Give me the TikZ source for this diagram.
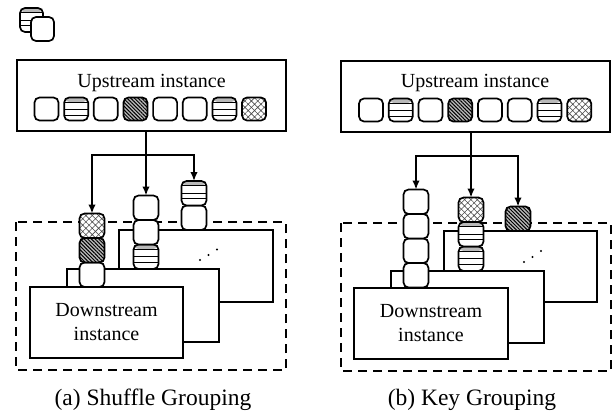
\documentclass[tikz,border=0pt]{standalone}
\usepackage{fontspec}
\setmainfont{Liberation Serif}
\usepackage{tikz}
\usetikzlibrary{arrows.meta}
\usetikzlibrary{patterns.meta}
\usetikzlibrary{positioning}

\tikzset{
	tok/.style={draw,line width=1.7pt,rounded corners=5pt,minimum width=25pt,minimum height=24.5pt,inner sep=0pt,outer sep=0pt},
	tokE/.style={tok,fill=white},
	tokS/.style={tok,fill=white,path picture={
		\fill[gray!55] (path picture bounding box.north west) rectangle ([yshift=-4.5pt]path picture bounding box.north east);
		\draw[line width=0.9pt] ([yshift=-4.5pt]path picture bounding box.north west) -- ([yshift=-4.5pt]path picture bounding box.north east);
		\draw[line width=0.9pt] ([yshift=-12pt]path picture bounding box.north west) -- ([yshift=-12pt]path picture bounding box.north east);
		\draw[line width=0.9pt] ([yshift=-17.5pt]path picture bounding box.north west) -- ([yshift=-17.5pt]path picture bounding box.north east);}},
	tokD/.style={tok,preaction={fill=gray!55},pattern={Lines[angle=-45,distance=2.6pt,line width=1pt]},pattern color=black},
	tokC/.style={tok,preaction={fill=white},pattern={Hatch[angle=45,distance=4.5pt,line width=0.6pt]},pattern color=black!70},
	inst/.style={draw,line width=1.6pt,fill=white,inner sep=0pt},
	group/.style={draw,line width=1.7pt,dash pattern=on 9pt off 6pt},
	arr/.style={line width=1.6pt,-{Latex[length=9pt,width=7.5pt]}},
}

\begin{document}
\begin{tikzpicture}[x=1pt,y=-1pt,font=\fontsize{20}{24}\selectfont]
	\useasboundingbox (0,0) rectangle (612,416);
	\node[tokS,minimum width=23pt,minimum height=24pt] (ic1) at (31.5,20) {};
	\node[tokE,minimum width=23pt,minimum height=24pt] (ic2) at (42.5,29) {};

	\begin{scope}
	\node[inst,minimum width=269pt,minimum height=71pt] (a-up) at (151.5,95.5) {};
	\node (a-uptxt) at (151.5,83) {Upstream instance};
	\foreach \t [count=\i] in {tokE,tokS,tokE,tokD,tokE,tokE,tokS,tokC}
		\node[\t,minimum width=24pt,minimum height=23pt] (a-u\i) at ({46.5+29.65*(\i-1)},109) {};
	\draw[group] (16,222) rectangle (286,370);
	\node[inst,minimum width=154pt,minimum height=72pt] (a-d3) at (196,266) {};
	\node[inst,minimum width=152pt,minimum height=73pt] (a-d2) at (143,305.5) {};
	\node[inst,minimum width=153pt,minimum height=71pt,align=center] (a-d1) at (106.5,322.5) {Downstream\\instance};
	\node[tokE,anchor=south] (a-l3) at (92,287) {};
	\node[tokD,above=0pt of a-l3] (a-l2) {};
	\node[tokC,above=0pt of a-l2] (a-l1) {};
	\node[tokS,anchor=south] (a-m3) at (146,269) {};
	\node[tokE,above=0pt of a-m3] (a-m2) {};
	\node[tokE,above=0pt of a-m2] (a-m1) {};
	\node[tokE,anchor=south] (a-r2) at (194,230) {};
	\node[tokS,above=0pt of a-r2] (a-r1) {};
	\fill (200,260) circle (1.2pt) (208.5,255) circle (1.2pt) (217,249.5) circle (1.2pt);
	\coordinate (a-sp) at (146,155);
	\draw[arr] (a-up.south -| a-m1.north) -- (a-m1.north);
	\draw[arr] (a-sp) -| (a-l1.north);
	\draw[arr] (a-sp) -| (a-r1.north);
	\node (a-cap) at (153,400) {\fontsize{23.5}{28}\selectfont (a) Shuffle Grouping};
	\end{scope}

	\begin{scope}[xshift=325pt]
	\node[inst,minimum width=269pt,minimum height=71pt] (b-up) at (150.5,96.5) {};
	\node (b-uptxt) at (150,83) {Upstream instance};
	\foreach \t [count=\i] in {tokE,tokS,tokE,tokD,tokE,tokE,tokS,tokC}
		\node[\t,minimum width=24pt,minimum height=23pt] (b-u\i) at ({46+29.75*(\i-1)},110) {};
	\draw[group] (16,223) rectangle (286,371);
	\node[inst,minimum width=153pt,minimum height=71pt] (b-d3) at (195.5,266.5) {};
	\node[inst,minimum width=153pt,minimum height=72pt] (b-d2) at (142.5,307) {};
	\node[inst,minimum width=154pt,minimum height=71pt,align=center] (b-d1) at (106,323.5) {Downstream\\instance};
	\node[tokE,anchor=south] (b-l4) at (91,287.5) {};
	\node[tokE,above=0pt of b-l4] (b-l3) {};
	\node[tokE,above=0pt of b-l3] (b-l2) {};
	\node[tokE,above=0pt of b-l2] (b-l1) {};
	\node[tokS,anchor=south] (b-m3) at (146,271) {};
	\node[tokS,above=0pt of b-m3] (b-m2) {};
	\node[tokC,above=0pt of b-m2] (b-m1) {};
	\node[tokD,anchor=south] (b-r1) at (193,231) {};
	\fill (199,262) circle (1.2pt) (207.5,257) circle (1.2pt) (216,251) circle (1.2pt);
	\coordinate (b-sp) at (146,156);
	\draw[arr] (b-up.south -| b-m1.north) -- (b-m1.north);
	\draw[arr] (b-sp) -| (b-l1.north);
	\draw[arr] (b-sp) -| (b-r1.north);
	\node (b-cap) at (147,400) {\fontsize{23.5}{28}\selectfont (b) Key Grouping};
	\end{scope}
\end{tikzpicture}
\end{document}
